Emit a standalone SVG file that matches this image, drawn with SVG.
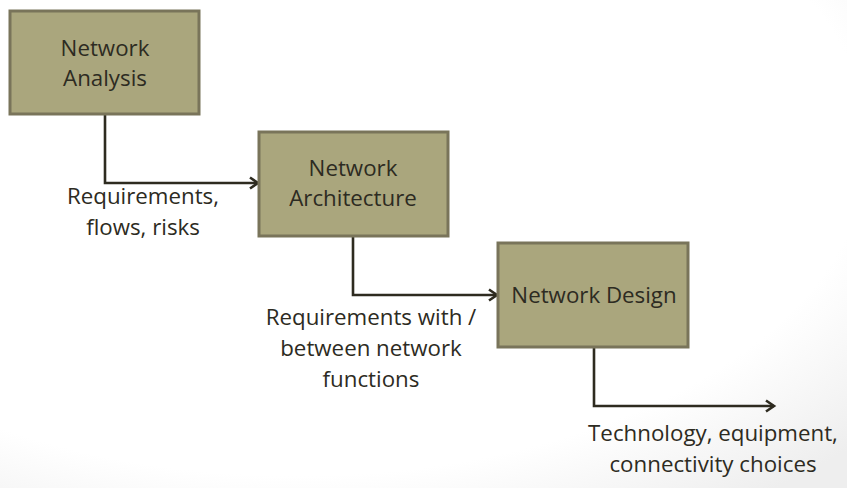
<svg xmlns="http://www.w3.org/2000/svg" width="847" height="488" viewBox="0 0 847 488">
<defs>
<style>
.box{fill:#aaa67d;stroke:#79745a;stroke-width:3}
.t{font-family:"Open Sans","Noto Sans",sans-serif;font-size:22.3px;fill:#2d2b22;text-anchor:middle}
.c{fill:none;stroke:#2e2b20;stroke-width:2.6}
</style>
<marker id="arr" markerWidth="14" markerHeight="14" refX="11" refY="7" orient="auto" markerUnits="userSpaceOnUse">
<path d="M3,1.5 L11,7 L3,12.5" fill="none" stroke="#2e2b20" stroke-width="2.6"/>
</marker>
<radialGradient id="bg" cx="0.35" cy="0.3" r="0.9">
<stop offset="0.75" stop-color="#ffffff"/>
<stop offset="1" stop-color="#eeeeee"/>
</radialGradient>
</defs>
<rect x="0" y="0" width="847" height="488" fill="url(#bg)"/>
<g id="connectors">
<path class="c" d="M105,114 V183 H258" marker-end="url(#arr)"/>
<path class="c" d="M353,236 V295 H497" marker-end="url(#arr)"/>
<path class="c" d="M594,347 V406 H774" marker-end="url(#arr)"/>
</g>
<g id="analysis">
<rect class="box" x="10" y="11" width="189" height="103"/>
<text class="t" x="105" y="56">Network</text>
<text class="t" x="105" y="86">Analysis</text>
</g>
<g id="architecture">
<rect class="box" x="259" y="132" width="189" height="104"/>
<text class="t" x="353" y="176">Network</text>
<text class="t" x="353" y="206">Architecture</text>
</g>
<g id="design">
<rect class="box" x="498" y="243" width="190" height="104"/>
<text class="t" x="594" y="303">Network Design</text>
</g>
<g id="labels">
<text class="t" x="143" y="204">Requirements,</text>
<text class="t" x="143" y="235">flows, risks</text>
<text class="t" x="371" y="325">Requirements with /</text>
<text class="t" x="371" y="356">between network</text>
<text class="t" x="371" y="387">functions</text>
<text class="t" x="713" y="441">Technology, equipment,</text>
<text class="t" x="713" y="472">connectivity choices</text>
</g>
</svg>
